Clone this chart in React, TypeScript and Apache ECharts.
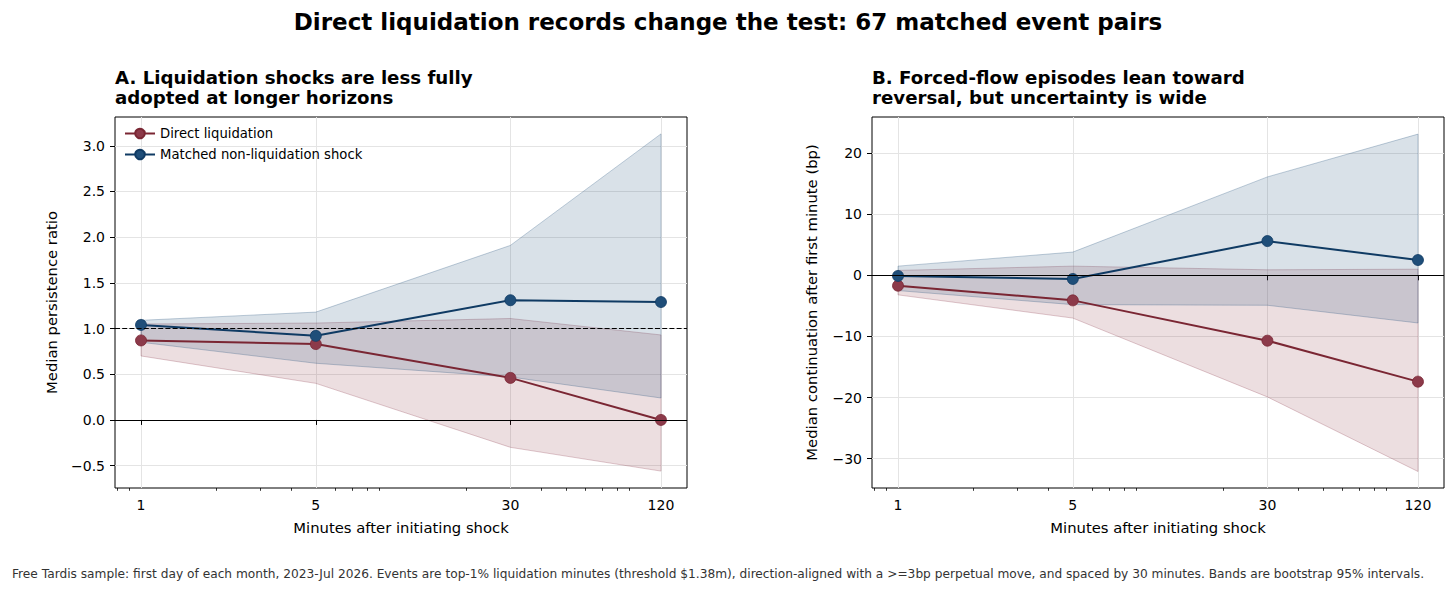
import React, { useEffect, useRef } from "react";
import * as echarts from "echarts";

const FONT = "DejaVu Sans";

// Horizons (minutes) and tick values
const minutes = [1, 5, 30, 120];
const xTickMinutes = [1, 5, 30, 120];
const xMinorTickMinutes = [0.8, 0.9, 2, 3, 4, 6, 7, 8, 9, 20, 40, 50, 60, 70, 80, 90];
const xMin = 0.787;
const xMax = 152.5;

// Panel A: median persistence ratio
const persistLiq = [0.87, 0.83, 0.46, 0.0];
const persistLiqLo = [0.7, 0.4, -0.3, -0.56];
const persistLiqHi = [1.05, 1.06, 1.11, 0.93];
const persistMatched = [1.04, 0.92, 1.31, 1.29];
const persistMatchedLo = [0.85, 0.62, 0.47, 0.24];
const persistMatchedHi = [1.09, 1.18, 1.91, 3.13];
const persistTicks = [-0.5, 0, 0.5, 1, 1.5, 2, 2.5, 3];

// Panel B: median continuation after first minute (bp)
const contLiq = [-1.7, -4.1, -10.7, -17.4];
const contLiqLo = [-3.2, -7.0, -19.9, -32.1];
const contLiqHi = [0.8, 1.5, 0.9, 1.0];
const contMatched = [-0.1, -0.6, 5.6, 2.5];
const contMatchedLo = [-2.5, -4.8, -4.9, -7.8];
const contMatchedHi = [1.5, 3.8, 16.1, 23.1];
const contTicks = [-30, -20, -10, 0, 10, 20];

const RED_LINE = "#7a2633";
const RED_MK = "#8c3a4a";
const BLUE_LINE = "#0f3a63";
const BLUE_MK = "#1f4e79";

const hexA = (hex: string, a: number) => {
  const r = parseInt(hex.slice(1, 3), 16);
  const g = parseInt(hex.slice(3, 5), 16);
  const b = parseInt(hex.slice(5, 7), 16);
  return `rgba(${r},${g},${b},${a})`;
};

const minus = (s: string) => s.replace("-", "\u2212");

const GRID_W = 572;
const GRID_H = 371;
const GRID_TOP = 117;
const TICK_FS = 14;
const NAME_FS = 14.8;

function xAxes(gridIndex: number) {
  return [
    {
      type: "log",
      logBase: 10,
      gridIndex,
      min: xMin,
      max: xMax,
      name: "Minutes after initiating shock",
      nameLocation: "middle",
      nameGap: 32,
      nameTextStyle: { fontFamily: FONT, fontSize: NAME_FS, color: "#000" },
      axisLine: { show: false },
      axisTick: { show: true, customValues: xTickMinutes, length: 5, lineStyle: { color: "#000", width: 1 } },
      axisLabel: {
        customValues: xTickMinutes,
        fontFamily: FONT,
        fontSize: TICK_FS,
        color: "#000",
        margin: 10,
        formatter: (v: number) => String(v),
      },
      splitLine: { show: true, lineStyle: { color: "#e4e4e4", width: 1 } },
      minorTick: { show: false },
      minorSplitLine: { show: false },
    },
    {
      type: "log",
      logBase: 10,
      gridIndex,
      min: xMin,
      max: xMax,
      position: "bottom",
      axisLine: { show: false },
      axisLabel: { show: false },
      splitLine: { show: false },
      axisTick: { show: true, customValues: xMinorTickMinutes, length: 2.8, lineStyle: { color: "#000", width: 0.8 } },
    },
  ];
}

function yAxis(gridIndex: number, min: number, max: number, ticks: number[], decimals: number, name: string, nameGap: number) {
  return {
    type: "value",
    gridIndex,
    min,
    max,
    name,
    nameLocation: "middle",
    nameGap,
    nameTextStyle: { fontFamily: FONT, fontSize: NAME_FS, color: "#000" },
    axisLine: { show: false },
    axisTick: { show: true, customValues: ticks, length: 5, lineStyle: { color: "#000", width: 1 } },
    axisLabel: {
      customValues: ticks,
      fontFamily: FONT,
      fontSize: TICK_FS,
      color: "#000",
      margin: 10,
      formatter: (v: number) => minus(v.toFixed(decimals)),
    },
    splitLine: { show: true, lineStyle: { color: "#e4e4e4", width: 1 } },
  };
}

function band(xi: number, yi: number, lo: number[], hi: number[], color: string) {
  return {
    type: "custom",
    xAxisIndex: xi,
    yAxisIndex: yi,
    z: 1,
    silent: true,
    data: minutes.map((m, i) => [m, lo[i], hi[i]]),
    encode: { x: 0, y: [1, 2] },
    renderItem: (params: any, api: any) => {
      if (params.dataIndexInside !== 0) return null;
      const n = params.dataInsideLength;
      const upper: number[][] = [];
      const lower: number[][] = [];
      for (let i = 0; i < n; i++) {
        const x = api.value(0, i);
        upper.push(api.coord([x, api.value(2, i)]));
        lower.push(api.coord([x, api.value(1, i)]));
      }
      return {
        type: "polygon",
        shape: { points: upper.concat(lower.reverse()) },
        style: { fill: hexA(color, 0.17), stroke: hexA(color, 0.28), lineWidth: 1 },
      };
    },
  };
}

function line(name: string, xi: number, yi: number, vals: number[], lineColor: string, mkColor: string, markLines?: any[]) {
  const s: any = {
    type: "line",
    name,
    xAxisIndex: xi,
    yAxisIndex: yi,
    z: 3,
    data: minutes.map((m, i) => [m, vals[i]]),
    symbol: "circle",
    symbolSize: 11,
    showSymbol: true,
    lineStyle: { color: lineColor, width: 2 },
    itemStyle: { color: mkColor, borderColor: lineColor, borderWidth: 0.8 },
  };
  if (markLines) {
    s.markLine = { silent: true, symbol: ["none", "none"], label: { show: false }, data: markLines };
  }
  return s;
}

const zeroLine = { yAxis: 0, lineStyle: { color: "#000", width: 1.2, type: "solid" } };
const oneLine = { yAxis: 1, lineStyle: { color: "#000", width: 1.1, type: [5, 2.2] } };

const option: any = {
  animation: false,
  backgroundColor: "#fff",
  textStyle: { fontFamily: FONT },
  title: [
    {
      text: "Direct liquidation records change the test: 67 matched event pairs",
      left: "center",
      top: 10,
      padding: 0,
      textStyle: { fontFamily: FONT, fontSize: 23, fontWeight: "bold", color: "#000" },
    },
    {
      text: "A. Liquidation shocks are less fully\nadopted at longer horizons",
      left: 115,
      top: 67,
      padding: 0,
      textStyle: { fontFamily: FONT, fontSize: 18.2, fontWeight: "bold", color: "#000", lineHeight: 20 },
    },
    {
      text: "B. Forced-flow episodes lean toward\nreversal, but uncertainty is wide",
      left: 872,
      top: 67,
      padding: 0,
      textStyle: { fontFamily: FONT, fontSize: 18.2, fontWeight: "bold", color: "#000", lineHeight: 20 },
    },
    {
      text:
        "Free Tardis sample: first day of each month, 2023-Jul 2026. Events are top-1% liquidation minutes (threshold $1.38m), direction-aligned with a >=3bp perpetual move, and spaced by 30 minutes. Bands are bootstrap 95% intervals.",
      left: 12,
      top: 568,
      padding: 0,
      textStyle: { fontFamily: FONT, fontSize: 12.2, fontWeight: "normal", color: "#333" },
    },
  ],
  legend: {
    data: ["Direct liquidation", "Matched non-liquidation shock"],
    left: 124,
    top: 127,
    orient: "vertical",
    itemWidth: 30,
    itemHeight: 12,
    itemGap: 8,
    padding: 0,
    selectedMode: false,
    textStyle: { fontFamily: FONT, fontSize: 13.2, color: "#000" },
  },
  grid: [
    { left: 115, top: GRID_TOP, width: GRID_W, height: GRID_H, show: true, borderColor: "#000", borderWidth: 1, backgroundColor: "transparent" },
    { left: 872, top: GRID_TOP, width: GRID_W, height: GRID_H, show: true, borderColor: "#000", borderWidth: 1, backgroundColor: "transparent" },
  ],
  xAxis: [...xAxes(0), ...xAxes(1)],
  yAxis: [
    yAxis(0, -0.745, 3.315, persistTicks, 1, "Median persistence ratio", 56),
    yAxis(1, -34.8, 25.9, contTicks, 0, "Median continuation after first minute (bp)", 53),
  ],
  series: [
    band(0, 0, persistLiqLo, persistLiqHi, RED_MK),
    band(0, 0, persistMatchedLo, persistMatchedHi, BLUE_MK),
    line("Direct liquidation", 0, 0, persistLiq, RED_LINE, RED_MK, [zeroLine, oneLine]),
    line("Matched non-liquidation shock", 0, 0, persistMatched, BLUE_LINE, BLUE_MK),
    band(2, 1, contLiqLo, contLiqHi, RED_MK),
    band(2, 1, contMatchedLo, contMatchedHi, BLUE_MK),
    line("Direct liquidation", 2, 1, contLiq, RED_LINE, RED_MK, [zeroLine]),
    line("Matched non-liquidation shock", 2, 1, contMatched, BLUE_LINE, BLUE_MK),
  ],
};

export default function App() {
  const ref = useRef<HTMLDivElement>(null);
  useEffect(() => {
    if (!ref.current) return;
    const chart = echarts.init(ref.current, undefined, { renderer: "svg" });
    chart.setOption(option);
    return () => chart.dispose();
  }, []);
  return (
    <div
      ref={ref}
      style={{ position: "fixed", left: 0, top: 0, width: 1456, height: 593, background: "#fff" }}
    />
  );
}
